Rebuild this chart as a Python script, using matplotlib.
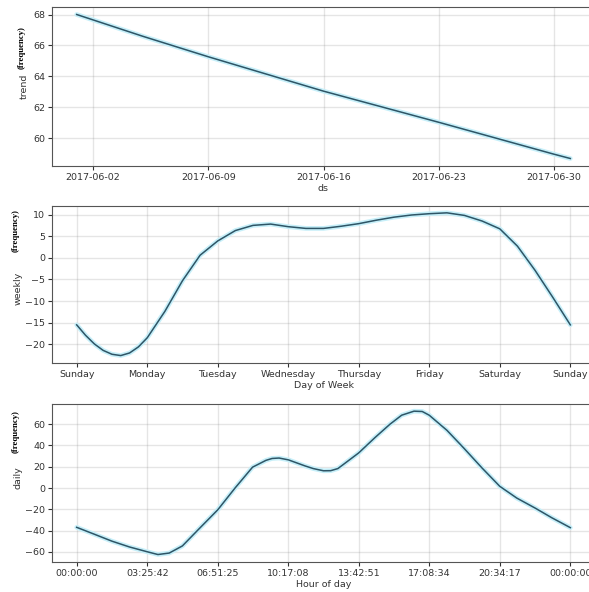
import numpy as np
import pandas as pd
import matplotlib
matplotlib.use('Agg')
import matplotlib.pyplot as plt
import matplotlib.dates as mdates

plt.rcParams['font.size'] = 6.8

# trend component
trend_dates = pd.to_datetime(['2017-06-01', '2017-06-05', '2017-06-09', '2017-06-16',
                              '2017-06-23', '2017-06-30', '2017-07-01'])
trend_vals = [68.0, 66.6, 65.27, 63.05, 61.04, 58.98, 58.7]
trend_ticks = pd.to_datetime(['2017-06-02', '2017-06-09', '2017-06-16', '2017-06-23', '2017-06-30'])

# weekly component (days after Sunday)
week_days = [0, 0.125, 0.25, 0.375, 0.5, 0.625, 0.75, 0.875, 1.0, 1.25, 1.5, 1.75, 2.0, 2.25,
             2.5, 2.75, 3.0, 3.25, 3.5, 3.75, 4.0, 4.25, 4.5, 4.75, 5.0, 5.25, 5.5, 5.75,
             6.0, 6.25, 6.5, 6.75, 7.0]
weekly_vals = [-15.5, -17.9, -19.9, -21.4, -22.3, -22.6, -22.0, -20.6, -18.5, -12.4, -5.3,
               0.6, 3.9, 6.3, 7.5, 7.8, 7.2, 6.8, 6.8, 7.3, 7.9, 8.7, 9.4, 9.9, 10.2, 10.4,
               9.8, 8.5, 6.7, 2.7, -2.9, -9.1, -15.5]
day_names = ['Sunday', 'Monday', 'Tuesday', 'Wednesday', 'Thursday', 'Friday', 'Saturday', 'Sunday']

# daily component (hour of day)
hours = [0, 0.86, 1.71, 2.57, 3.43, 3.95, 4.5, 5.14, 5.97, 6.86, 7.7, 8.55, 9.2, 9.5, 9.84,
         10.29, 11.1, 11.5, 12.0, 12.35, 12.7, 13.71, 14.5, 15.23, 15.8, 16.4, 16.8, 17.14,
         18.0, 18.8, 19.7, 20.57, 21.4, 22.3, 23.1, 24.0]
daily_vals = [-37, -43.5, -50, -55.5, -60, -62.6, -61.2, -54.5, -38, -20.5, 0, 19.6, 26,
              27.8, 28.2, 26.5, 20.8, 18.3, 16.2, 16.3, 18.3, 33, 47.4, 60, 68.5, 72.3,
              72.0, 68.5, 54.3, 38, 19, 1.6, -9.5, -19, -28, -37.3]
hour_labels = ['00:00:00', '03:25:42', '06:51:25', '10:17:08', '13:42:51', '17:08:34', '20:34:17', '00:00:00']

W, H = 589, 592
fig = plt.figure(figsize=(W / 100, H / 100), dpi=100)
left, right = 52, 595
panels = [(7.3, 165.7), (205.7, 362.7), (404, 561.7)]
axes = [fig.add_axes([left / W, 1 - b / H, (right - left) / W, (b - t) / H]) for t, b in panels]

line_c = '#2e5566'
halo_c = '#c6eff9'


def draw(ax, x, y):
    ax.plot(x, y, color=halo_c, lw=3.4, solid_capstyle='round')
    ax.plot(x, y, color=line_c, lw=1.1)
    ax.grid(True, which='major', c='gray', ls='-', lw=1, alpha=0.2)
    for s in ax.spines.values():
        s.set_color('#555555')
    ax.tick_params(length=3, width=0.8, colors='#333333', pad=2)


ax = axes[0]
draw(ax, trend_dates, trend_vals)
ax.set_xticks(trend_ticks)
ax.xaxis.set_major_formatter(mdates.DateFormatter('%Y-%m-%d'))
ax.set_yticks([60, 62, 64, 66, 68])
ax.set_xlabel('ds', labelpad=2, color='#333333')

ax = axes[1]
draw(ax, week_days, weekly_vals)
ax.set_xticks(range(8))
ax.set_xticklabels(day_names)
ax.set_yticks([-20, -15, -10, -5, 0, 5, 10])
ax.set_xlabel('Day of Week', labelpad=2, color='#333333')

ax = axes[2]
draw(ax, hours, daily_vals)
ax.set_xticks([24 / 7 * i for i in range(8)])
ax.set_xticklabels(hour_labels)
ax.set_yticks([-60, -40, -20, 0, 20, 40, 60])
ax.set_xlabel('Hour of day', labelpad=2, color='#333333')

# y labels: plain name plus small bold tag above it
ylabs = [('trend', 24, 86, 48), ('weekly', 18, 288, 231), ('daily', 18, 478, 432)]
for name, xp, yname, ytag in ylabs:
    fig.text(xp / W, 1 - yname / H, name, rotation=90, ha='center', va='center',
             fontsize=6.8, color='#333333')
    fig.text((xp - 2) / W, 1 - ytag / H, '(frequency)', rotation=90, ha='center', va='center',
             fontsize=6.3, fontweight='bold', family='Liberation Serif')

fig.savefig('out.png', dpi=100)
